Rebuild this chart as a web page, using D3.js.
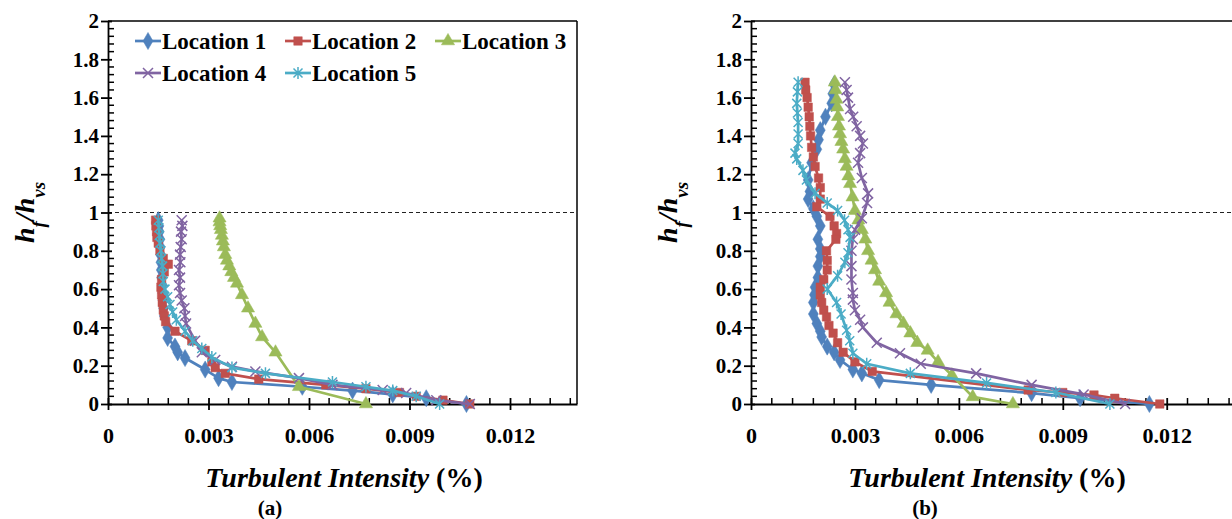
<!DOCTYPE html>
<html>
<head>
<meta charset="utf-8">
<script src="https://cdn.jsdelivr.net/npm/d3@7"></script>
<style>
  body { margin: 0; background: #fff; }
  svg { display: block; }
  text { font-family: "Liberation Serif", "Times New Roman", serif; font-weight: bold; fill: #000; }
</style>
</head>
<body>
<svg id="chart" width="1232" height="519"></svg>
<script>
// series names + colours (Excel 2010 palette)
const locations = ["Location 1", "Location 2", "Location 3", "Location 4", "Location 5"]
const colors = ["#4F81BD", "#C0504D", "#9BBB59", "#8064A2", "#4BACC6"]
const markers = ["diamond", "square", "triangle", "cross", "star"]

const xTicks = [0, 0.003, 0.006, 0.009, 0.012]
const xTickLabels = ["0", "0.003", "0.006", "0.009", "0.012"]
const yTicks = [0, 0.2, 0.4, 0.6, 0.8, 1, 1.2, 1.4, 1.6, 1.8, 2]
const yTickLabels = ["0", "0.2", "0.4", "0.6", "0.8", "1", "1.2", "1.4", "1.6", "1.8", "2"]

// each point: [hf/hvs, turbulent intensity]
// panel (a)
const aLoc1 = [[0.96,0.0015],[0.93,0.00152],[0.90,0.00153],[0.86,0.00155],[0.82,0.00156],[0.78,0.00157],
  [0.74,0.00158],[0.70,0.00159],[0.66,0.0016],[0.62,0.00162],[0.58,0.00163],[0.54,0.00164],[0.50,0.00166],
  [0.46,0.00168],[0.40,0.00178],[0.345,0.00178],[0.30,0.002],[0.27,0.00208],[0.24,0.0023],[0.18,0.0029],
  [0.135,0.0033],[0.115,0.0037],[0.09,0.0058],[0.07,0.0073],[0.05,0.0085],[0.03,0.0095],[0,0.0107]]
const aLoc2 = [[0.96,0.00142],[0.93,0.00143],[0.90,0.00145],[0.87,0.00146],[0.84,0.0015],[0.80,0.00155],
  [0.76,0.00165],[0.73,0.0018],[0.69,0.00168],[0.65,0.0016],[0.61,0.00158],[0.57,0.0016],[0.53,0.00162],
  [0.49,0.00165],[0.46,0.00168],[0.43,0.00172],[0.38,0.002],[0.33,0.0025],[0.28,0.0029],[0.22,0.0031],
  [0.19,0.0032],[0.16,0.0035],[0.13,0.0045],[0.10,0.0065],[0.08,0.0077],[0.06,0.0087],[0.04,0.0092],
  [0.02,0.01],[0,0.0108]]
const aLoc3 = [[0.97,0.00333],[0.95,0.00333],[0.93,0.00335],[0.91,0.00337],[0.88,0.0034],[0.85,0.00343],
  [0.82,0.00346],[0.78,0.0035],[0.75,0.00355],[0.72,0.00362],[0.69,0.00368],[0.66,0.00376],[0.63,0.00385],
  [0.57,0.004],[0.50,0.00418],[0.42,0.0044],[0.35,0.0046],[0.27,0.005],[0.09,0.0057],[0,0.0077]]
const aLoc4 = [[0.96,0.0022],[0.93,0.00222],[0.90,0.00218],[0.86,0.0022],[0.82,0.00217],[0.78,0.00215],
  [0.74,0.00216],[0.70,0.00212],[0.66,0.00215],[0.62,0.00212],[0.58,0.00215],[0.54,0.0022],[0.50,0.00228],
  [0.46,0.0023],[0.42,0.00233],[0.33,0.0026],[0.27,0.0028],[0.23,0.0032],[0.195,0.0037],[0.17,0.0044],
  [0.135,0.0057],[0.10,0.0067],[0.073,0.0082],[0.057,0.0089],[0.02,0.0098],[0,0.0108]]
const aLoc5 = [[0.96,0.0015],[0.92,0.00152],[0.88,0.00153],[0.84,0.00155],[0.80,0.00158],[0.76,0.0016],
  [0.72,0.00163],[0.68,0.00164],[0.64,0.00165],[0.60,0.0017],[0.56,0.00178],[0.52,0.00185],[0.48,0.00193],
  [0.44,0.00204],[0.38,0.0023],[0.33,0.00253],[0.29,0.0028],[0.245,0.0031],[0.19,0.0037],[0.16,0.0047],
  [0.115,0.0067],[0.09,0.0077],[0.07,0.0085],[0.04,0.0092],[0,0.0099]]

// panel (b)
const bLoc1 = [[1.67,0.0024],[1.62,0.00236],[1.57,0.00233],[1.50,0.00215],[1.43,0.002],[1.38,0.00195],
  [1.33,0.0019],[1.26,0.00175],[1.17,0.00165],[1.11,0.0017],[1.07,0.00165],[1.02,0.0018],[0.98,0.0019],
  [0.93,0.002],[0.86,0.00193],[0.81,0.002],[0.77,0.002],[0.72,0.00193],[0.66,0.00193],[0.61,0.00185],
  [0.57,0.00183],[0.53,0.0018],[0.47,0.0018],[0.42,0.0019],[0.38,0.002],[0.35,0.00204],[0.30,0.0022],
  [0.27,0.0024],[0.23,0.00257],[0.18,0.00294],[0.16,0.0032],[0.125,0.0037],[0.10,0.0052],[0.057,0.0081],
  [0.03,0.0095],[0,0.0115]]
const bLoc2 = [[1.68,0.00156],[1.64,0.00158],[1.60,0.00162],[1.55,0.00165],[1.50,0.00168],[1.45,0.0017],
  [1.40,0.00172],[1.34,0.00175],[1.29,0.0018],[1.24,0.00185],[1.18,0.00195],[1.13,0.002],[1.07,0.002],
  [1.03,0.0019],[0.98,0.00228],[0.93,0.0024],[0.89,0.00247],[0.86,0.00245],[0.80,0.00218],[0.75,0.0022],
  [0.70,0.0022],[0.65,0.0021],[0.61,0.002],[0.57,0.002],[0.53,0.00204],[0.49,0.0021],[0.455,0.00218],
  [0.41,0.00225],[0.37,0.00237],[0.32,0.0025],[0.27,0.00266],[0.22,0.003],[0.17,0.0035],[0.073,0.008],
  [0.06,0.009],[0.047,0.0099],[0.03,0.0105],[0,0.0118]]
const bLoc3 = [[1.68,0.00242],[1.64,0.00244],[1.59,0.00247],[1.55,0.00249],[1.50,0.00251],[1.45,0.00254],
  [1.41,0.00257],[1.37,0.00261],[1.33,0.00266],[1.28,0.00271],[1.24,0.00276],[1.19,0.00281],[1.15,0.00286],
  [1.08,0.00293],[1.01,0.003],[0.96,0.0031],[0.91,0.0032],[0.86,0.0033],[0.80,0.00338],[0.75,0.00348],
  [0.70,0.00358],[0.64,0.0037],[0.58,0.0039],[0.53,0.004],[0.47,0.0042],[0.42,0.0044],[0.37,0.0046],
  [0.32,0.0048],[0.28,0.0051],[0.22,0.0054],[0.15,0.0058],[0.037,0.0064],[0,0.00756]]
const bLoc4 = [[1.68,0.00271],[1.64,0.00276],[1.60,0.0028],[1.54,0.00286],[1.50,0.00295],[1.45,0.00305],
  [1.40,0.00315],[1.36,0.00323],[1.31,0.00315],[1.26,0.00309],[1.18,0.0032],[1.10,0.00338],[1.05,0.00335],
  [0.97,0.0032],[0.91,0.003],[0.86,0.00294],[0.80,0.0029],[0.72,0.0029],[0.65,0.0029],[0.58,0.00294],
  [0.545,0.00294],[0.49,0.003],[0.44,0.00315],[0.40,0.00323],[0.32,0.00363],[0.265,0.0043],[0.21,0.0049],
  [0.16,0.0065],[0.10,0.0081],[0.05,0.0096],[0,0.0108]]
const bLoc5 = [[1.68,0.00136],[1.63,0.00134],[1.57,0.00132],[1.52,0.00134],[1.47,0.00136],[1.41,0.00136],
  [1.36,0.00136],[1.31,0.00127],[1.28,0.00132],[1.22,0.0015],[1.17,0.0016],[1.10,0.00185],[1.05,0.0022],
  [1.01,0.0025],[0.96,0.0027],[0.91,0.0028],[0.87,0.00286],[0.79,0.0028],[0.74,0.00271],[0.67,0.0025],
  [0.60,0.0022],[0.53,0.00247],[0.47,0.0026],[0.385,0.00276],[0.33,0.00285],[0.265,0.00294],[0.21,0.00334],
  [0.16,0.0046],[0.11,0.0068],[0.06,0.0088],[0,0.01036]]

const svg = d3.select("#chart")

const markerPath = (type) => {
  if (type === "diamond") return d3.symbol(d3.symbolDiamond, 85)()
  if (type === "square") return d3.symbol(d3.symbolSquare, 72)()
  if (type === "triangle") return d3.symbol(d3.symbolTriangle, 75)()
  if (type === "cross") return "M-5,-5L5,5M-5,5L5,-5"
  return "M-4.5,-4.5L4.5,4.5M-4.5,4.5L4.5,-4.5M0,-6L0,6"
}
const isStroked = (type) => type === "cross" || type === "star"

function drawMarker(sel, type, color) {
  sel.attr("d", markerPath(type))
    .attr("fill", isStroked(type) ? "none" : color)
    .attr("stroke", color)
    .attr("stroke-width", isStroked(type) ? 1.5 : 0.5)
}

function drawPanel({ left, right, top, bottom, xMax, series, label, labelX, boxRight }) {
  const x = d3.scaleLinear().domain([0, xMax]).range([left, right])
  const y = d3.scaleLinear().domain([0, 2]).range([bottom, top])
  const g = svg.append("g")

  // box
  g.append("line").attr("x1", left).attr("x2", boxRight).attr("y1", top).attr("y2", top)
    .attr("stroke", "#000").attr("stroke-width", 1.5)
  if (boxRight === right) {
    g.append("line").attr("x1", right).attr("x2", right).attr("y1", top).attr("y2", bottom)
      .attr("stroke", "#000").attr("stroke-width", 1.5)
  }

  // dashed line at hf/hvs = 1
  g.append("line").attr("x1", left).attr("x2", boxRight).attr("y1", y(1)).attr("y2", y(1))
    .attr("stroke", "#222").attr("stroke-width", 1).attr("stroke-dasharray", "4,3")

  // minor ticks
  const xMinor = d3.range(0, xMax + 1e-9, 0.0006).filter(v => !xTicks.some(t => Math.abs(t - v) < 1e-9))
  g.selectAll("line.xminor").data(xMinor).join("line").attr("class", "xminor")
    .attr("x1", d => x(d)).attr("x2", d => x(d)).attr("y1", bottom).attr("y2", bottom - 6)
    .attr("stroke", "#000").attr("stroke-width", 1.5)
  const yMinor = d3.range(0, 2.0001, 0.04).filter(v => !yTicks.some(t => Math.abs(t - v) < 1e-9))
  g.selectAll("line.yminor").data(yMinor).join("line").attr("class", "yminor")
    .attr("x1", left).attr("x2", left + 6).attr("y1", d => y(d)).attr("y2", d => y(d))
    .attr("stroke", "#000").attr("stroke-width", 1.5)

  // axes with major ticks crossing the line
  const xAxis = g.append("g").attr("transform", `translate(0,${bottom})`)
    .call(d3.axisBottom(x).tickValues(xTicks).tickSizeInner(6).tickSizeOuter(0).tickFormat((d, i) => xTickLabels[i]))
  xAxis.select(".domain").attr("stroke", "#000").attr("stroke-width", 1.8)
  xAxis.selectAll(".tick line").attr("y1", -6).attr("y2", 6).attr("stroke-width", 1.8)
  xAxis.selectAll(".tick text").attr("y", 23).style("font-size", "22px")
    .style("font-family", "'Liberation Serif', serif").style("font-weight", "bold")

  const yAxis = g.append("g").attr("transform", `translate(${left},0)`)
    .call(d3.axisLeft(y).tickValues(yTicks).tickSizeInner(7).tickSizeOuter(0).tickFormat((d, i) => yTickLabels[i]))
  yAxis.select(".domain").attr("stroke", "#000").attr("stroke-width", 1.8)
  yAxis.selectAll(".tick line").attr("x1", -7).attr("x2", 4).attr("stroke-width", 1.8)
  yAxis.selectAll(".tick text").attr("x", -9).style("font-size", "21px")
    .style("font-family", "'Liberation Serif', serif").style("font-weight", "bold")

  // series
  const line = d3.line().x(d => x(d[1])).y(d => y(d[0]))
  series.forEach((data, i) => {
    const sg = g.append("g")
    sg.append("path").datum(data).attr("d", line)
      .attr("fill", "none").attr("stroke", colors[i]).attr("stroke-width", 2.7)
      .attr("stroke-linejoin", "round")
    sg.selectAll("path.mk").data(data).join("path").attr("class", "mk")
      .attr("transform", d => `translate(${x(d[1])},${y(d[0])})`)
      .call(s => drawMarker(s, markers[i], colors[i]))
  })

  // axis titles
  const xt = g.append("text").attr("x", left + 236)
    .attr("y", 487).attr("text-anchor", "middle").style("font-size", "28px")
  xt.append("tspan").style("font-style", "italic").text("Turbulent Intensity ")
  xt.append("tspan").text("(%)")

  const yt = g.append("text").attr("transform", `translate(${left - 74},${y(1)}) rotate(-90)`)
    .attr("text-anchor", "middle").style("font-size", "28px").style("font-style", "italic")
  yt.append("tspan").text("h")
  yt.append("tspan").attr("baseline-shift", "sub").style("font-size", "19px").text("f")
  yt.append("tspan").text("/h")
  yt.append("tspan").attr("baseline-shift", "sub").style("font-size", "19px").text("vs")

  g.append("text").attr("x", labelX).attr("y", 515).attr("text-anchor", "middle")
    .style("font-size", "21px").text(label)
}

drawPanel({ left: 108, right: 577, top: 21, bottom: 404, xMax: 0.014, boxRight: 577,
  series: [aLoc1, aLoc2, aLoc3, aLoc4, aLoc5], label: "(a)", labelX: 270 })
drawPanel({ left: 751, right: 1236, top: 21, bottom: 404, xMax: 0.014, boxRight: 1236,
  series: [bLoc1, bLoc2, bLoc3, bLoc4, bLoc5], label: "(b)", labelX: 925 })

// legend in panel (a)
const legendPos = [[135, 41], [285, 41], [435, 41], [135, 73], [285, 73]]
const lg = svg.append("g")
locations.forEach((name, i) => {
  const [lx, ly] = legendPos[i]
  lg.append("line").attr("x1", lx).attr("x2", lx + 26).attr("y1", ly).attr("y2", ly)
    .attr("stroke", colors[i]).attr("stroke-width", 2.7)
  lg.append("path").attr("transform", `translate(${lx + 13},${ly})`)
    .call(s => drawMarker(s, markers[i], colors[i]))
  lg.append("text").attr("x", lx + 27).attr("y", ly + 8).style("font-size", "23px").text(name)
})
</script>
</body>
</html>
